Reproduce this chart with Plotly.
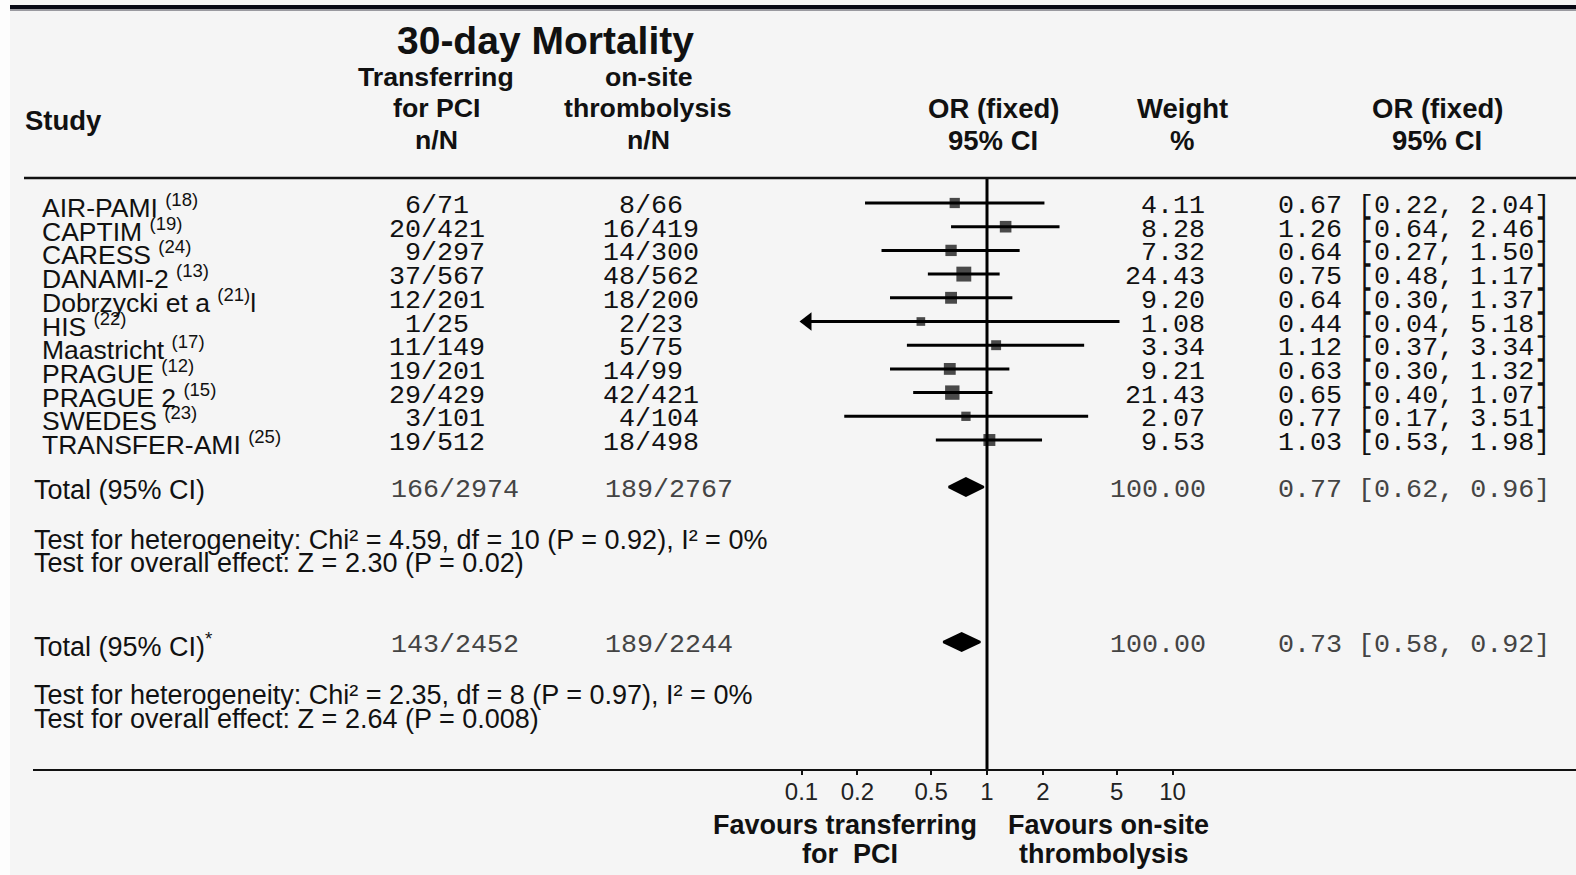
import math
import plotly.graph_objects as go

# ---------------- data ----------------
studies = ["AIR-PAMI", "CAPTIM", "CARESS", "DANAMI-2", "Dobrzycki et a", "HIS",
           "Maastricht", "PRAGUE", "PRAGUE 2", "SWEDES", "TRANSFER-AMI"]
refs = ["(18)", "(19)", "(24)", "(13)", "(21)", "(22)", "(17)", "(12)", "(15)", "(23)", "(25)"]
name_suffix = ["", "", "", "", "l", "", "", "", "", "", ""]
pci_n = [6, 20, 9, 37, 12, 1, 11, 19, 29, 3, 19]
pci_N = [71, 421, 297, 567, 201, 25, 149, 201, 429, 101, 512]
lys_n = [8, 16, 14, 48, 18, 2, 5, 14, 42, 4, 18]
lys_N = [66, 419, 300, 562, 200, 23, 75, 99, 421, 104, 498]
weight = [4.11, 8.28, 7.32, 24.43, 9.20, 1.08, 3.34, 9.21, 21.43, 2.07, 9.53]
or_est = [0.67, 1.26, 0.64, 0.75, 0.64, 0.44, 1.12, 0.63, 0.65, 0.77, 1.03]
or_lo = [0.22, 0.64, 0.27, 0.48, 0.30, 0.04, 0.37, 0.30, 0.40, 0.17, 0.53]
or_hi = [2.04, 2.46, 1.50, 1.17, 1.37, 5.18, 3.34, 1.32, 1.07, 3.51, 1.98]

total_labels = ["Total (95% CI)", "Total (95% CI)<sup>*</sup>"]
total_pci = ["166/2974", "143/2452"]
total_lys = ["189/2767", "189/2244"]
total_weight = [100.00, 100.00]
total_or = [0.77, 0.73]
total_lo = [0.62, 0.58]
total_hi = [0.96, 0.92]
het_text = ["Test for heterogeneity: Chi² = 4.59, df = 10 (P = 0.92), I² = 0%",
            "Test for heterogeneity: Chi² = 2.35, df = 8 (P = 0.97), I² = 0%"]
eff_text = ["Test for overall effect: Z = 2.30 (P = 0.02)",
            "Test for overall effect: Z = 2.64 (P = 0.008)"]

tick_vals = [0.1, 0.2, 0.5, 1, 2, 5, 10]
tick_text = ["0.1", "0.2", "0.5", "1", "2", "5", "10"]
axis_min_shown = 0.1

# ---------------- layout constants ----------------
W, H = 1576, 875
ONE_PX = 987.0      # pixel position of OR = 1
DEC_PX = 185.5      # pixels per decade
ROW0, ROW_DY = 206.0, 23.7
TOTAL_Y = [490.0, 645.0]
HET_Y = [540.0, 695.0]
EFF_Y = [563.0, 719.0]
AXIS_Y = 770.0
RULE_Y = 178.0
MARK_DY = -3.0
ARROW_HALF = 6.0

SANS = "Liberation Sans, Arial, sans-serif"
MONO = "Liberation Mono, Courier New, monospace"
BG = "#f5f5f5"
INK = "#111111"
NBSP = "\u00a0"

F_NAME = 26.5
F_HEAD = 27.5
F_MONO = 26.7
MONO_CW = 0.6 * F_MONO

def px(x):
    return x / W

row_y = [ROW0 + i * ROW_DY for i in range(len(studies))]

fig = go.Figure()

# CI lines (clipped at the left end of the displayed scale)
lx, ly = [], []
arrow_x, arrow_y = [], []
for lo, hi, y in zip(or_lo, or_hi, row_y):
    lo_c = max(lo, axis_min_shown)
    lx += [lo_c, hi, None]
    ly += [y + MARK_DY, y + MARK_DY, None]
    if lo < axis_min_shown:
        arrow_x.append(axis_min_shown * 10 ** (ARROW_HALF / DEC_PX))
        arrow_y.append(y + MARK_DY)
fig.add_trace(go.Scatter(x=lx, y=ly, mode="lines", line=dict(color="#000000", width=3),
                         hoverinfo="skip", showlegend=False, cliponaxis=False))
fig.add_trace(go.Scatter(x=arrow_x, y=arrow_y, mode="markers",
                         marker=dict(symbol="triangle-left", size=16, color="#000000"),
                         showlegend=False, cliponaxis=False))

# weight squares
sizes = [7 + 1.6 * math.sqrt(w) for w in weight]
fig.add_trace(go.Scatter(x=or_est, y=[y + MARK_DY for y in row_y], mode="markers",
                         marker=dict(symbol="square", size=sizes, color="#000000",
                                     line=dict(width=0)),
                         showlegend=False, cliponaxis=False))

# total diamonds
for o, lo, hi, y in zip(total_or, total_lo, total_hi, TOTAL_Y):
    yc = y - 3
    fig.add_trace(go.Scatter(x=[lo, o, hi, o, lo], y=[yc, yc - 9, yc, yc + 9, yc],
                             mode="lines", fill="toself", fillcolor="#000000",
                             line=dict(color="#000000", width=2), showlegend=False,
                             hoverinfo="skip"))

# vertical line of no effect
fig.add_trace(go.Scatter(x=[1, 1], y=[RULE_Y, AXIS_Y], mode="lines",
                         line=dict(color="#000000", width=3), showlegend=False, hoverinfo="skip"))

ann = []

def text(x, y, s, size, anchor="left", bold=False, font=SANS, color=INK):
    if bold:
        s = "<b>" + s + "</b>"
    ann.append(dict(x=px(x), y=y, xref="paper", yref="y", text=s, showarrow=False,
                    xanchor=anchor, yanchor="middle", borderpad=0,
                    font=dict(family=font, size=size, color=color)))

# headers
text(545, 40, "30-day Mortality", 39, "center", bold=True)
text(436, 77, "Transferring", 26.7, "center", bold=True)
text(436, 108, "for PCI", 26.7, "center", bold=True)
text(436, 140, "n/N", 26.7, "center", bold=True)
text(648, 77, "on-site", 26.7, "center", bold=True)
text(648, 108, "thrombolysis", 26.7, "center", bold=True)
text(648, 140, "n/N", 26.7, "center", bold=True)
text(24, 120, "Study", F_HEAD, "left", bold=True)
text(993, 108, "OR (fixed)", F_HEAD, "center", bold=True)
text(993, 140, "95% CI", F_HEAD, "center", bold=True)
text(1182, 108, "Weight", F_HEAD, "center", bold=True)
text(1182, 140, "%", F_HEAD, "center", bold=True)
text(1437, 108, "OR (fixed)", F_HEAD, "center", bold=True)
text(1437, 140, "95% CI", F_HEAD, "center", bold=True)

# study rows (n/N columns aligned on the slash)
PCI_SLASH, LYS_SLASH = 429.0, 643.0
for i, y in enumerate(row_y):
    text(41, y, f"{studies[i]} <sup>{refs[i]}</sup>{name_suffix[i]}", F_NAME)
    s1 = f"{pci_n[i]:>2}/{pci_N[i]:<3}".replace(" ", NBSP)
    s2 = f"{lys_n[i]:>2}/{lys_N[i]:<3}".replace(" ", NBSP)
    text(PCI_SLASH + 0.5 * MONO_CW, y, s1, F_MONO, "center", font=MONO)
    text(LYS_SLASH + 0.5 * MONO_CW, y, s2, F_MONO, "center", font=MONO)
    text(1206, y, f"{weight[i]:.2f}", F_MONO, "right", font=MONO)
    text(1277, y, f"{or_est[i]:.2f} [{or_lo[i]:.2f}, {or_hi[i]:.2f}]", F_MONO, "left", font=MONO)

# totals
for k in range(2):
    y = TOTAL_Y[k]
    text(33, y, total_labels[k], F_NAME + 0.5)
    text(390, y, total_pci[k], F_MONO, "left", font=MONO, color="#444444")
    text(604, y, total_lys[k], F_MONO, "left", font=MONO, color="#444444")
    text(1207, y, f"{total_weight[k]:.2f}", F_MONO, "right", font=MONO, color="#444444")
    text(1277, y, f"{total_or[k]:.2f} [{total_lo[k]:.2f}, {total_hi[k]:.2f}]", F_MONO, "left",
         font=MONO, color="#444444")
    text(33, HET_Y[k], het_text[k], 27)
    text(33, EFF_Y[k], eff_text[k], 27)

# axis captions
text(845, 825, "Favours transferring", 27, "center", bold=True)
text(850, 854, "for  PCI", 27, "center", bold=True)
text(1108, 825, "Favours on-site", 27, "center", bold=True)
text(1104, 854, "thrombolysis", 27, "center", bold=True)

shapes = [
    dict(type="rect", xref="paper", yref="y", x0=px(10), x1=1, y0=5, y1=9,
         fillcolor="#070914", line=dict(width=0)),
    dict(type="rect", xref="paper", yref="y", x0=px(10), x1=1, y0=9, y1=11,
         fillcolor="#9a9aa0", line=dict(width=0)),
    dict(type="rect", xref="paper", yref="y", x0=0, x1=px(10), y0=0, y1=H,
         fillcolor="#fdfdfd", line=dict(width=0), layer="below"),
    dict(type="line", xref="paper", yref="y", x0=px(24), x1=1, y0=RULE_Y, y1=RULE_Y,
         line=dict(color=INK, width=2.5)),
    dict(type="line", xref="paper", yref="y", x0=px(33), x1=1, y0=AXIS_Y, y1=AXIS_Y,
         line=dict(color=INK, width=2)),
]

x_lo = (0 - ONE_PX) / DEC_PX
x_hi = (W - ONE_PX) / DEC_PX

fig.update_layout(
    width=W, height=H, margin=dict(l=0, r=0, t=0, b=0),
    paper_bgcolor=BG, plot_bgcolor=BG,
    xaxis=dict(type="log", range=[x_lo, x_hi], domain=[0, 1], anchor="free",
               position=1 - AXIS_Y / H, showgrid=False, zeroline=False, showline=False,
               tickvals=tick_vals, ticktext=tick_text, ticks="outside", ticklen=4,
               tickwidth=2, tickcolor=INK, ticklabelstandoff=-4,
               tickfont=dict(family=SANS, size=24, color="#222222")),
    yaxis=dict(range=[H, 0], domain=[0, 1], visible=False, showgrid=False, zeroline=False),
    annotations=ann, shapes=shapes, showlegend=False,
)

fig.write_html("out.html")
